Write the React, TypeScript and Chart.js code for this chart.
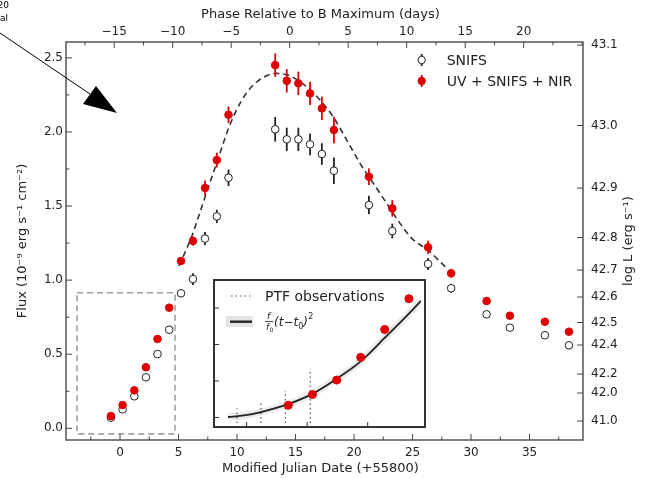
import { useEffect, useRef } from "react";
import { Chart, registerables } from "chart.js";
Chart.register(...registerables);

const FONT = '"DejaVu Sans", sans-serif';

// ---- data (MJD relative to 55800) ----
const mjd = [-0.78, 0.22, 1.22, 2.21, 3.2, 4.2, 5.21, 6.23, 7.26, 8.27, 9.27, 13.26, 14.25, 15.24, 16.24, 17.25, 18.28, 21.27, 23.27, 26.33, 28.3, 31.33, 33.32, 36.31, 38.37];
const fluxFull = [0.083, 0.157, 0.256, 0.412, 0.603, 0.814, 1.129, 1.264, 1.622, 1.81, 2.116, 2.451, 2.345, 2.328, 2.26, 2.159, 2.013, 1.698, 1.484, 1.221, 1.046, 0.859, 0.76, 0.719, 0.652];
const errFull = [0.01, 0.01, 0.01, 0.01, 0.01, 0.01, 0.02, 0.03, 0.05, 0.05, 0.056, 0.079, 0.079, 0.079, 0.079, 0.079, 0.09, 0.056, 0.056, 0.045, 0.03, 0.02, 0.02, 0.02, 0.02];
const fluxSnifs = [0.072, 0.128, 0.216, 0.344, 0.501, 0.665, 0.911, 1.007, 1.28, 1.43, 1.691, 2.018, 1.95, 1.95, 1.916, 1.851, 1.738, 1.507, 1.331, 1.109, 0.945, 0.769, 0.679, 0.628, 0.56];
const errSnifs = [0.01, 0.01, 0.01, 0.01, 0.01, 0.01, 0.02, 0.04, 0.045, 0.045, 0.056, 0.083, 0.079, 0.079, 0.073, 0.073, 0.09, 0.062, 0.05, 0.04, 0.03, 0.02, 0.02, 0.02, 0.02];

// dashed light-curve fit
const fitMjd = [5.04, 6.15, 7.26, 8.3, 9.3, 10.3, 11.3, 12.3, 13.3, 14.3, 15.38, 16.3, 17.09, 18.23, 19.38, 20.51, 21.65, 22.79, 23.93, 24.93, 26.35, 27.8];
const fitFlux = [1.096, 1.3, 1.56, 1.8, 2.03, 2.2, 2.31, 2.37, 2.395, 2.385, 2.339, 2.28, 2.215, 2.1, 1.945, 1.788, 1.653, 1.518, 1.383, 1.282, 1.2, 1.09];

// inset: early rise
const curveMjd = [-3.27, -2.6, -1.95, -0.79, 0.19, 1.18, 2.2, 3.2, 4.11, 4.7];
const curveFlux = [0.003, 0.014, 0.035, 0.091, 0.16, 0.261, 0.383, 0.545, 0.696, 0.8];
const ptfMjd = [-2.9, -1.91, -0.9, 0.13];
const ptfTop = [0.061, 0.097, 0.183, 0.334];
const zoomBoxMjd = [-3.68, 4.7];
const zoomBoxFlux = [-0.038, 0.915];

// axes
const X_MIN = -4.62, X_MAX = 39.57;
const Y_MIN = -0.079, Y_MAX = 2.607;
const xMajor = [0, 5, 10, 15, 20, 25, 30, 35];
const yMajor = [0, 0.5, 1.0, 1.5, 2.0, 2.5];
const T_BMAX = 14.5;
const phaseTicks = [-15, -10, -5, 0, 5, 10, 15, 20];
const logLabels = ["41.0", "42.0", "42.2", "42.4", "42.5", "42.6", "42.7", "42.8", "42.9", "43.0", "43.1"];
const logFlux = [0.049, 0.238, 0.366, 0.562, 0.714, 0.886, 1.068, 1.287, 1.621, 2.043, 2.586];
const insetYTicks = [0, 0.25, 0.5, 0.75];
const insetXTicks = [-2.5, 0, 2.5];

const RED = "#e00000";
const minus = (v: number) => (v < 0 ? "\u2212" + Math.abs(v) : String(v));

const errorBars = {
  id: "errorBars",
  beforeDatasetDraw(chart: any, args: any) {
    const ds: any = chart.data.datasets[args.index];
    if (!ds.errors) return;
    const { ctx, chartArea: ca } = chart;
    const xs = chart.scales.x, ys = chart.scales.y;
    ctx.save();
    ctx.beginPath();
    ctx.rect(ca.left, ca.top, ca.right - ca.left, ca.bottom - ca.top);
    ctx.clip();
    ctx.strokeStyle = ds.errColor;
    ctx.lineWidth = 1.8;
    ds.data.forEach((p: any, i: number) => {
      const e = ds.errors[i];
      const px = xs.getPixelForValue(p.x);
      ctx.beginPath();
      ctx.moveTo(px, ys.getPixelForValue(p.y - e));
      ctx.lineTo(px, ys.getPixelForValue(p.y + e));
      ctx.stroke();
    });
    ctx.restore();
  },
};

const mainDecor = {
  id: "mainDecor",
  beforeDatasetsDraw(chart: any) {
    const { ctx } = chart;
    const xs = chart.scales.x, ys = chart.scales.y;
    ctx.save();
    ctx.strokeStyle = "#a0a0a0";
    ctx.lineWidth = 1.6;
    ctx.setLineDash([6, 4]);
    const x0 = xs.getPixelForValue(zoomBoxMjd[0]), x1 = xs.getPixelForValue(zoomBoxMjd[1]);
    const y0 = ys.getPixelForValue(zoomBoxFlux[1]), y1 = ys.getPixelForValue(zoomBoxFlux[0]);
    ctx.strokeRect(x0, y0, x1 - x0, y1 - y0);
    ctx.restore();
  },
  afterDraw(chart: any) {
    const { ctx, chartArea: ca } = chart;
    const xs = chart.scales.x, ys = chart.scales.y, y2 = chart.scales.y2;
    ctx.save();
    // spines
    ctx.strokeStyle = "#555";
    ctx.lineWidth = 1.5;
    ctx.strokeRect(ca.left, ca.top, ca.right - ca.left, ca.bottom - ca.top);
    // ticks
    ctx.strokeStyle = "#444";
    ctx.lineWidth = 1;
    const vt = (px: number, len: number) => {
      ctx.beginPath(); ctx.moveTo(px, ca.bottom); ctx.lineTo(px, ca.bottom - len); ctx.stroke();
    };
    const tt = (px: number, len: number) => {
      ctx.beginPath(); ctx.moveTo(px, ca.top); ctx.lineTo(px, ca.top + len); ctx.stroke();
    };
    const lt = (py: number, len: number) => {
      ctx.beginPath(); ctx.moveTo(ca.left, py); ctx.lineTo(ca.left + len, py); ctx.stroke();
    };
    const rt = (py: number, len: number) => {
      ctx.beginPath(); ctx.moveTo(ca.right, py); ctx.lineTo(ca.right - len, py); ctx.stroke();
    };
    for (let v = -2.5; v < X_MAX; v += 2.5) {
      const major = xMajor.includes(v);
      vt(xs.getPixelForValue(v), major ? 6 : 3.5);
    }
    for (let p = -17.5; p <= 25; p += 2.5) {
      const m = p + T_BMAX;
      if (m <= X_MIN || m >= X_MAX) continue;
      tt(xs.getPixelForValue(m), phaseTicks.includes(p) ? 6 : 3.5);
    }
    for (let v = 0; v <= 2.5001; v += 0.25) {
      const major = Math.abs(v * 2 - Math.round(v * 2)) < 1e-6;
      lt(ys.getPixelForValue(v), major ? 6 : 3.5);
    }
    logFlux.forEach((f) => rt(y2.getPixelForValue(f), 6));

    // legend
    const lx = 421.7;
    const rows = [
      { y: 60, fill: "#fff", stroke: "#222", bar: "#222", text: "SNIFS" },
      { y: 81, fill: RED, stroke: RED, bar: RED, text: "UV + SNIFS + NIR" },
    ];
    rows.forEach((r) => {
      ctx.strokeStyle = r.bar;
      ctx.lineWidth = 1.8;
      ctx.beginPath(); ctx.moveTo(lx, r.y - 6); ctx.lineTo(lx, r.y + 6); ctx.stroke();
      ctx.beginPath(); ctx.arc(lx, r.y, 3.7, 0, Math.PI * 2);
      ctx.fillStyle = r.fill; ctx.fill();
      ctx.lineWidth = 1; ctx.strokeStyle = r.stroke; ctx.stroke();
      ctx.fillStyle = "#222";
      ctx.font = `14px ${FONT}`;
      ctx.textAlign = "left"; ctx.textBaseline = "middle";
      ctx.fillText(r.text, 446.7, r.y + 1);
    });

    // axis titles
    ctx.fillStyle = "#222";
    ctx.font = `13px ${FONT}`;
    ctx.textAlign = "center"; ctx.textBaseline = "middle";
    const cx = (ca.left + ca.right) / 2, cy = (ca.top + ca.bottom) / 2;
    ctx.fillText("Modified Julian Date (+55800)", cx - 4, 469);
    ctx.fillText("Phase Relative to B Maximum (days)", cx - 4, 15);
    ctx.save(); ctx.translate(23, cy); ctx.rotate(-Math.PI / 2);
    ctx.fillText("Flux (10\u207B\u2079 erg s\u207B\u00B9 cm\u207B\u00B2)", 0, 0); ctx.restore();
    ctx.save(); ctx.translate(629, cy); ctx.rotate(-Math.PI / 2);
    ctx.fillText("log L (erg s\u207B\u00B9)", 0, 0); ctx.restore();

    // stray annotation arrow
    ctx.strokeStyle = "#000"; ctx.lineWidth = 1;
    ctx.beginPath(); ctx.moveTo(0, 33); ctx.lineTo(90, 94); ctx.stroke();
    ctx.fillStyle = "#000";
    ctx.beginPath(); ctx.moveTo(96, 86); ctx.lineTo(83, 104); ctx.lineTo(117, 113); ctx.closePath(); ctx.fill();
    ctx.font = `9px ${FONT}`;
    ctx.textAlign = "right"; ctx.textBaseline = "middle";
    ctx.fillText("20", 9, 6);
    ctx.fillText("al", 8, 19);
    ctx.restore();
  },
};

const insetDecor = {
  id: "insetDecor",
  beforeDraw(chart: any) {
    const { ctx, width, height } = chart;
    ctx.save(); ctx.fillStyle = "#fff"; ctx.fillRect(0, 0, width, height); ctx.restore();
  },
  afterDraw(chart: any) {
    const { ctx, width, height } = chart;
    const xs = chart.scales.x, ys = chart.scales.y;
    ctx.save();
    ctx.strokeStyle = "#333"; ctx.lineWidth = 1;
    insetYTicks.forEach((v) => {
      const py = ys.getPixelForValue(v);
      ctx.beginPath(); ctx.moveTo(0, py); ctx.lineTo(6, py); ctx.stroke();
    });
    insetXTicks.forEach((v) => {
      const px = xs.getPixelForValue(v);
      ctx.beginPath(); ctx.moveTo(px, height); ctx.lineTo(px, height - 6); ctx.stroke();
    });
    ctx.strokeStyle = "#333"; ctx.lineWidth = 2;
    ctx.strokeRect(1, 1, width - 2, height - 2);
    // legend
    ctx.strokeStyle = "#555"; ctx.lineWidth = 1.2; ctx.setLineDash([1.5, 3]);
    ctx.beginPath(); ctx.moveTo(18, 17); ctx.lineTo(40, 17); ctx.stroke();
    ctx.setLineDash([]);
    ctx.fillStyle = "#222"; ctx.font = `14px ${FONT}`;
    ctx.textAlign = "left"; ctx.textBaseline = "middle";
    ctx.fillText("PTF observations", 52, 18);
    ctx.fillStyle = "#e4e4e4";
    ctx.fillRect(13, 37, 27, 11);
    ctx.strokeStyle = "#222"; ctx.lineWidth = 2.4;
    ctx.beginPath(); ctx.moveTo(17, 42.7); ctx.lineTo(39, 42.7); ctx.stroke();
    ctx.fillStyle = "#222";
    ctx.font = `italic 9px ${FONT}`;
    ctx.textAlign = "center"; ctx.textBaseline = "alphabetic";
    ctx.fillText("f", 55.5, 40);
    ctx.lineWidth = 0.8;
    ctx.beginPath(); ctx.moveTo(52, 42.5); ctx.lineTo(60, 42.5); ctx.stroke();
    ctx.fillText("f", 54.5, 51);
    ctx.font = `6px ${FONT}`;
    ctx.fillText("0", 58.5, 52.5);
    ctx.textAlign = "left";
    ctx.font = `italic 12px ${FONT}`;
    ctx.fillText("(t\u2212t", 61, 47);
    const w = ctx.measureText("(t\u2212t").width;
    ctx.font = `8px ${FONT}`;
    ctx.fillText("0", 61 + w, 49.5);
    ctx.font = `italic 12px ${FONT}`;
    ctx.fillText(")", 61 + w + 5, 47);
    ctx.font = `8px ${FONT}`;
    ctx.fillText("2", 61 + w + 10, 40);
    ctx.restore();
  },
};

export default function App() {
  const mainRef = useRef<HTMLCanvasElement>(null);
  const insetRef = useRef<HTMLCanvasElement>(null);

  useEffect(() => {
    document.body.style.margin = "0";
    Chart.defaults.font.family = FONT;
    Chart.defaults.font.size = 12;
    Chart.defaults.color = "#222";

    const ptsFull = mjd.map((x, i) => ({ x, y: fluxFull[i] }));
    const ptsSnifs = mjd.map((x, i) => ({ x, y: fluxSnifs[i] }));
    const fitPts = fitMjd.map((x, i) => ({ x, y: fitFlux[i] }));

    const main = new Chart(mainRef.current as HTMLCanvasElement, {
      type: "scatter",
      data: {
        datasets: [
          {
            label: "UV + SNIFS + NIR",
            data: ptsFull,
            backgroundColor: RED,
            borderColor: RED,
            borderWidth: 1,
            pointRadius: 3.8,
            order: 0,
            errors: errFull,
            errColor: RED,
          } as any,
          {
            label: "SNIFS",
            data: ptsSnifs,
            backgroundColor: "#fff",
            borderColor: "#222",
            borderWidth: 1,
            pointRadius: 3.8,
            order: 1,
            errors: errSnifs,
            errColor: "#222",
          } as any,
          {
            label: "fit",
            data: fitPts,
            showLine: true,
            borderColor: "#333",
            borderWidth: 1.6,
            borderDash: [6, 4],
            pointRadius: 0,
            cubicInterpolationMode: "monotone",
            order: 2,
          } as any,
        ],
      },
      options: {
        animation: false,
        responsive: false,
        devicePixelRatio: 1,
        events: [],
        layout: { padding: 0 },
        plugins: { legend: { display: false }, tooltip: { enabled: false } },
        scales: {
          x: {
            type: "linear", position: "bottom", min: X_MIN, max: X_MAX,
            grid: { display: false, drawTicks: false }, border: { display: false },
            afterBuildTicks: (s: any) => { s.ticks = xMajor.map((v) => ({ value: v })); },
            ticks: { autoSkip: false, maxRotation: 0, padding: 6, callback: (v: any) => minus(Number(v)) },
            afterFit: (s: any) => { s.height = 38; },
          },
          x2: {
            type: "linear", position: "top", axis: "x", min: X_MIN, max: X_MAX,
            grid: { display: false, drawTicks: false }, border: { display: false },
            afterBuildTicks: (s: any) => { s.ticks = phaseTicks.map((p) => ({ value: p + T_BMAX })); },
            ticks: { autoSkip: false, maxRotation: 0, padding: 3, callback: (_v: any, i: number) => minus(phaseTicks[i]) },
            afterFit: (s: any) => { s.height = 42; },
          },
          y: {
            type: "linear", position: "left", min: Y_MIN, max: Y_MAX,
            grid: { display: false, drawTicks: false }, border: { display: false },
            afterBuildTicks: (s: any) => { s.ticks = yMajor.map((v) => ({ value: v })); },
            ticks: { autoSkip: false, padding: 3, callback: (v: any) => Number(v).toFixed(1) },
            afterFit: (s: any) => { s.width = 66; },
          },
          y2: {
            type: "linear", position: "right", axis: "y", min: Y_MIN, max: Y_MAX,
            grid: { display: false, drawTicks: false }, border: { display: false },
            afterBuildTicks: (s: any) => { s.ticks = logFlux.map((v) => ({ value: v })); },
            ticks: { autoSkip: false, padding: 8, callback: (_v: any, i: number) => logLabels[i] },
            afterFit: (s: any) => { s.width = 62; },
          },
        } as any,
      },
      plugins: [errorBars, mainDecor],
    });

    const earlyRed = mjd
      .map((x, i) => ({ x, y: fluxFull[i] }))
      .filter((p) => p.x >= zoomBoxMjd[0] && p.x <= zoomBoxMjd[1]);
    const curvePts = curveMjd.map((x, i) => ({ x, y: curveFlux[i] }));
    const ptfSets = ptfMjd.map((x, i) => ({
      data: [{ x, y: zoomBoxFlux[0] }, { x, y: ptfTop[i] }],
      showLine: true,
      borderColor: "#555",
      borderWidth: 1.2,
      borderDash: [1.5, 3],
      pointRadius: 0,
      order: 5,
    }));

    const inset = new Chart(insetRef.current as HTMLCanvasElement, {
      type: "scatter",
      data: {
        datasets: [
          {
            data: earlyRed,
            backgroundColor: RED,
            borderColor: RED,
            borderWidth: 1,
            pointRadius: 4,
            order: 0,
          } as any,
          {
            data: curvePts,
            showLine: true,
            borderColor: "#222",
            borderWidth: 1.8,
            pointRadius: 0,
            cubicInterpolationMode: "monotone",
            order: 1,
          } as any,
          {
            data: curvePts,
            showLine: true,
            borderColor: "rgba(0,0,0,0.08)",
            borderWidth: 7,
            pointRadius: 0,
            cubicInterpolationMode: "monotone",
            order: 2,
          } as any,
          ...(ptfSets as any[]),
        ],
      },
      options: {
        animation: false,
        responsive: false,
        devicePixelRatio: 1,
        events: [],
        layout: { padding: 0 },
        plugins: { legend: { display: false }, tooltip: { enabled: false } },
        scales: {
          x: { type: "linear", min: zoomBoxMjd[0], max: zoomBoxMjd[1], display: false },
          y: { type: "linear", min: zoomBoxFlux[0], max: zoomBoxFlux[1], display: false },
        },
      },
      plugins: [insetDecor],
    });

    return () => {
      main.destroy();
      inset.destroy();
    };
  }, []);

  return (
    <div style={{ position: "fixed", left: 0, top: 0, width: 645, height: 478, overflow: "hidden", background: "#fff" }}>
      <canvas ref={mainRef} width={645} height={478} style={{ position: "absolute", left: 0, top: 0, width: 645, height: 478 }} />
      <canvas ref={insetRef} width={213} height={149} style={{ position: "absolute", left: 213, top: 279, width: 213, height: 149 }} />
    </div>
  );
}
